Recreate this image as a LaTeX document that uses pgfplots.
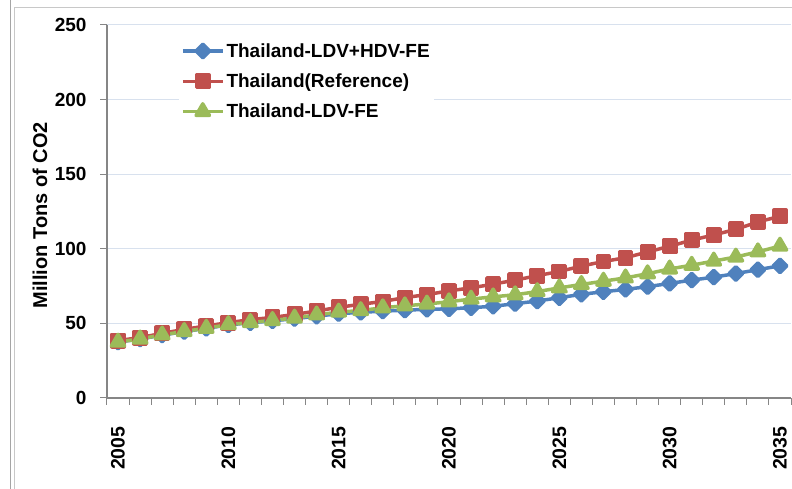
\documentclass[border=0pt]{standalone}
\usepackage{pgfplots}
\usepackage{pgfplotstable}
\pgfplotsset{compat=1.18}
\usepackage{fontspec}
\setmainfont{Liberation Sans}
\definecolor{sblue}{RGB}{79,129,189}
\definecolor{sred}{RGB}{192,80,77}
\definecolor{sgreen}{RGB}{155,187,89}
\definecolor{axgray}{RGB}{134,134,134}
\definecolor{gridc}{RGB}{216,225,238}
\definecolor{framec}{RGB}{165,165,165}
\definecolor{framed}{RGB}{200,200,200}

\pgfplotstableread{
year blue red green
2005 37.5 38.5 37.5
2006 39.5 40.5 39.6
2007 42.2 43.3 42.3
2008 44.5 46.0 44.6
2009 46.7 48.3 46.8
2010 49.0 50.5 49.2
2011 50.4 52.5 50.6
2012 51.7 54.0 52.0
2013 53.2 56.0 53.6
2014 54.8 58.3 55.7
2015 56.5 60.8 57.6
2016 57.4 62.8 58.6
2017 58.2 64.7 60.5
2018 58.9 67.3 61.8
2019 59.4 69.3 63.0
2020 59.8 71.8 64.5
2021 60.5 73.8 66.3
2022 61.5 76.3 67.8
2023 63.2 79.0 69.2
2024 65.0 82.0 71.3
2025 67.2 84.8 73.8
2026 69.5 88.4 76.1
2027 71.2 91.5 78.3
2028 72.8 94.0 80.5
2029 74.6 97.9 83.3
2030 76.8 101.7 86.5
2031 79.0 105.8 89.0
2032 81.0 109.3 91.8
2033 83.4 113.0 94.5
2034 86.0 118.0 98.0
2035 88.6 121.8 101.8
}\datatable

\newcommand{\lblfont}{\fontsize{19}{22}\selectfont\bfseries}

\begin{document}
\begin{tikzpicture}[x=1pt,y=1pt]
\path[use as bounding box] (0,0) rectangle (792,489);
\draw[framec, line width=0.8pt] (10,0) -- (10,489);
\draw[framed, line width=0.8pt] (14,0) -- (14,482) -- (792,482);
\begin{axis}[
  at={(107pt,91pt)}, anchor=south west,
  scale only axis, width=684pt, height=373pt,
  xmin=2004.5, xmax=2035.5, ymin=0, ymax=250,
  axis lines*=left,
  axis line style={draw=axgray, line width=1.5pt, -},
  xtick={2005,2010,...,2035},
  xticklabels={2005,2010,2015,2020,2025,2030,2035},
  minor xtick={2004.5,2005.5,...,2035.5},
  every major x tick/.append style={draw=none},
  ytick={0,50,...,250},
  tick align=outside,
  major tick length=7pt,
  minor tick length=7pt,
  tick style={draw=axgray, line width=1pt},
  ymajorgrids,
  major grid style={draw=gridc, line width=1pt},
  /pgf/number format/assume math mode=true,
  xticklabel shift=18pt,
  xticklabel style={rotate=90, anchor=east, font=\fontsize{19.5}{22}\selectfont\bfseries},
  yticklabel style={font=\lblfont, xshift=-10pt},
  every axis y label/.style={at={(axis description cs:-0.098,0.49)}, rotate=90, anchor=center, font=\fontsize{20}{23}\selectfont\bfseries},
  ylabel={Million Tons of CO2},
  legend style={at={(axis description cs:0.105,0.962)}, anchor=north west, draw=none, fill=white,
    font=\lblfont, row sep=11pt, inner xsep=2pt, inner ysep=2pt, nodes={inner sep=2pt}},
  legend cell align=left,
  legend image code/.code={\draw[mark repeat=2,mark phase=2,#1] plot coordinates {(0pt,0pt) (20pt,0pt) (40pt,0pt)};},
]
\addplot[sblue, line width=3.5pt, line join=round, mark=square*, mark size=4.8pt,
  mark options={solid, rotate=45, draw=none, fill=sblue}] table[x=year,y=blue]{\datatable};
\addlegendentry{Thailand-LDV+HDV-FE}
\addplot[sred, line width=3.5pt, line join=round, mark=square*, mark size=6.2pt,
  mark options={solid, draw=none, fill=sred}] table[x=year,y=red]{\datatable};
\addlegendentry{Thailand(Reference)}
\addplot[sgreen, line width=3.5pt, line join=round, mark=triangle*, mark size=7.7pt,
  mark options={solid, draw=none, fill=sgreen}] table[x=year,y=green]{\datatable};
\addlegendentry{Thailand-LDV-FE}
\end{axis}
\end{tikzpicture}
\end{document}
